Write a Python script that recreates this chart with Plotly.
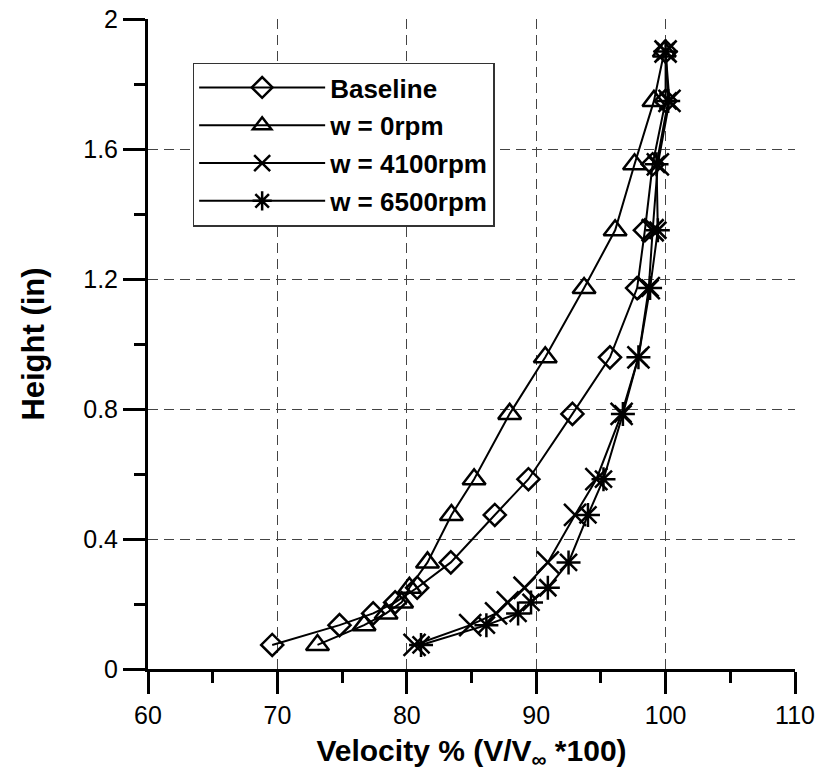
import plotly.graph_objects as go

heights = [0.074, 0.135, 0.171, 0.205, 0.25, 0.328, 0.474, 0.584, 0.785, 0.959, 1.172, 1.35, 1.553, 1.748, 1.9]
baseline = [69.6, 74.8, 77.4, 79.1, 80.8, 83.4, 86.8, 89.4, 92.8, 95.7, 97.8, 98.4, 99.0, 100.0, 100.0]
rpm0 = [73.1, 76.7, 78.4, 79.6, 80.2, 81.6, 83.45, 85.2, 87.95, 90.7, 93.7, 96.1, 97.6, 99.1, 99.9]
rpm4100 = [80.6, 84.9, 86.9, 87.8, 89.1, 90.9, 93.0, 94.65, 96.6, 97.9, 98.7, 99.0, 99.4, 100.3, 100.0]
rpm6500 = [81.1, 86.15, 88.6, 89.6, 90.9, 92.5, 94.0, 95.2, 96.7, 97.9, 98.8, 99.4, 99.3, 100.2, 100.0]

names = ["Baseline", "w = 0rpm", "w = 4100rpm", "w = 6500rpm"]
series = [baseline, rpm0, rpm4100, rpm6500]
symbols = ["diamond-open", "triangle-up-open", "x-thin-open", "asterisk-open"]
sizes = [17, 20, 22, 20]

FONT = "Arial, Liberation Sans, sans-serif"

fig = go.Figure()
for i, (nm, xs, sym, sz) in enumerate(zip(names, series, symbols, sizes)):
    fig.add_trace(go.Scatter(
        x=xs, y=heights, mode="lines+markers", name=nm,
        legendgroup=str(i),
        line=dict(color="black", width=2),
        marker=dict(symbol=sym, size=sz, color="black",
                    line=dict(color="black", width=2.5)),
    ))

axis_common = dict(
    showline=True, linecolor="black", linewidth=3,
    ticks="outside", ticklen=22, tickwidth=3, tickcolor="black",
    showgrid=True, gridcolor="#444444", gridwidth=1, griddash="10px,6px",
    zeroline=False, mirror=False, automargin=False,
    tickfont=dict(family=FONT, size=25, color="black"),
)

fig.update_xaxes(
    range=[60, 110], dtick=10, tick0=60,
    minor=dict(dtick=5, ticks="outside", ticklen=11, tickwidth=3, tickcolor="black", showgrid=False),
    title=dict(text="<b>Velocity % (V/V<sub>∞</sub> *100)</b>", font=dict(family=FONT, size=30, color="black"), standoff=12),
    **axis_common,
)
fig.update_yaxes(
    range=[0, 2], dtick=0.4, tick0=0,
    minor=dict(dtick=0.2, ticks="outside", ticklen=11, tickwidth=3, tickcolor="black", showgrid=False),
    title=dict(text="<b>Height (in)</b>", font=dict(family=FONT, size=31, color="black"), standoff=30),
    **axis_common,
)

fig.update_layout(
    width=824, height=782,
    margin=dict(l=148, r=29, t=19, b=113),
    paper_bgcolor="white", plot_bgcolor="white",
    showlegend=True,
    legend=dict(
        x=0.069, y=0.933, xanchor="left", yanchor="top",
        bgcolor="white", bordercolor="#333333", borderwidth=1.5,
        font=dict(family=FONT, size=26, color="black", weight="bold"),
        itemwidth=126, tracegroupgap=1,
    ),
)

fig.write_html("out.html")
